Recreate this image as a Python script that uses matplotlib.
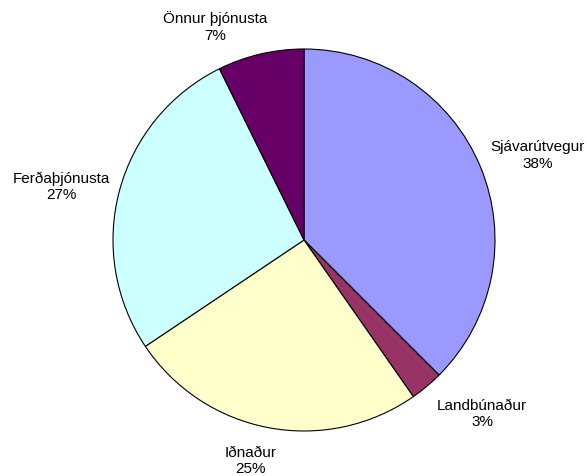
import numpy as np
import matplotlib
matplotlib.use("Agg")
import matplotlib.pyplot as plt

categories = ["Sjávarútvegur", "Landbúnaður", "Iðnaður", "Ferðaþjónusta", "Önnur þjónusta"]
values = [37.5, 2.8, 25.3, 27.1, 7.3]
colors = ["#9999FF", "#993366", "#FFFFCC", "#CCFFFF", "#660066"]

# label placement (distance in radii, angle offset in degrees from slice middle)
label_dist = [1.300, 1.303, 1.190, 1.300, 1.209]
label_dang = [-2.6, 5.7, -2.9, 2.6, 9.5]

W, H = 587, 476
fig = plt.figure(figsize=(W / 100, H / 100), dpi=100)
cx, cy, r = 304, 240, 191
ax = fig.add_axes([(cx - r) / W, (H - cy - r) / H, 2 * r / W, 2 * r / H])
ax.axis("off")

wedges, _ = ax.pie(values, colors=colors, startangle=90, counterclock=False,
                   radius=1, center=(0, 0), frame=False,
                   wedgeprops=dict(edgecolor="black", linewidth=0.8))
ax.set_xlim(-1, 1)
ax.set_ylim(-1, 1)
ax.set_aspect("equal")

total = sum(values)
for w, cat, v, d, da in zip(wedges, categories, values, label_dist, label_dang):
    mid = np.deg2rad((w.theta1 + w.theta2) / 2 + da)
    ax.text(d * np.cos(mid), d * np.sin(mid), f"{cat}\n{round(100 * v / total)}%",
            ha="center", va="center", fontsize=11, family="Liberation Sans",
            linespacing=1.25, clip_on=False)

fig.savefig("out.png", dpi=100)
